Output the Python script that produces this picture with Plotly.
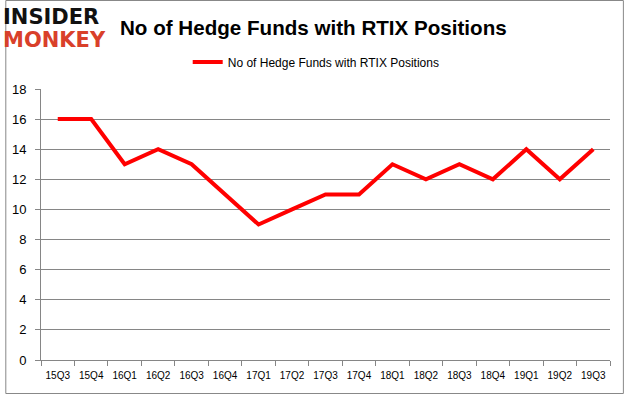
import plotly.graph_objects as go

quarters = ["15Q3", "15Q4", "16Q1", "16Q2", "16Q3", "16Q4", "17Q1", "17Q2", "17Q3",
            "17Q4", "18Q1", "18Q2", "18Q3", "18Q4", "19Q1", "19Q2", "19Q3"]
hedge_funds = [16, 16, 13, 14, 13, 11, 9, 10, 11, 11, 13, 12, 13, 12, 14, 12, 14]
series_name = "No of Hedge Funds with RTIX Positions"
title_text = "No of Hedge Funds with RTIX Positions"
y_ticks = [0, 2, 4, 6, 8, 10, 12, 14, 16, 18]

W, H = 625, 395
ML, MR, MT, MB = 36, 15, 89, 35
PW, PH = W - ML - MR, H - MT - MB

def px(x):
    return (x - ML) / PW

def py(y):
    return (H - MB - y) / PH

fig = go.Figure()
fig.add_trace(go.Scatter(
    x=quarters, y=hedge_funds, mode="lines", name=series_name,
    line=dict(color="#FF0000", width=4), showlegend=True,
))

grid = "#868686"
fig.update_layout(
    width=W, height=H,
    margin=dict(l=ML, r=MR, t=MT, b=MB),
    paper_bgcolor="white", plot_bgcolor="white",
    font=dict(family="Liberation Sans, Arial, sans-serif", color="#000000"),
    showlegend=True,
    legend=dict(orientation="h", x=px(184), xanchor="left", y=py(62), yanchor="middle",
                font=dict(size=12, color="#000000"), itemwidth=30,
                bgcolor="rgba(0,0,0,0)"),
    xaxis=dict(type="category", showgrid=False, showline=True, linecolor=grid, linewidth=1,
               ticks="outside", tickson="boundaries", ticklen=5, tickcolor=grid,
               tickangle=0, ticklabelstandoff=6,
               tickfont=dict(size=10, color="#000000"), range=[-0.5, len(quarters) - 0.5],
               zeroline=False),
    yaxis=dict(range=[0, 18], tickvals=y_ticks, showgrid=True, gridcolor=grid, gridwidth=1,
               showline=True, linecolor=grid, linewidth=1, ticks="outside", ticklen=5,
               ticklabelstandoff=6,
               tickcolor=grid, tickfont=dict(size=13, color="#000000"), zeroline=False),
    annotations=[
        dict(text="<b>" + title_text + "</b>", xref="paper", yref="paper",
             x=px(114), y=py(27), xanchor="left", yanchor="middle", showarrow=False,
             font=dict(size=20.6, color="#000000", family="Liberation Sans, Arial, sans-serif")),
        dict(text="<b>INSIDER</b>", xref="paper", yref="paper",
             x=px(-4), y=py(17), xanchor="left", yanchor="middle", showarrow=False,
             font=dict(size=21, color="#111111", family="DejaVu Sans, sans-serif")),
        dict(text="<b>MONKEY</b>", xref="paper", yref="paper",
             x=px(-4), y=py(40), xanchor="left", yanchor="middle", showarrow=False,
             font=dict(size=21, color="#D9402A", family="DejaVu Sans, sans-serif")),
    ],
    shapes=[
        dict(type="rect", xref="paper", yref="paper",
             x0=px(0.5), x1=px(W - 1.5), y0=py(H - 1.5), y1=py(0.5),
             line=dict(color="#888888", width=1), fillcolor="rgba(0,0,0,0)", layer="below"),
    ],
)

fig.write_html("out.html", config={"displayModeBar": False},
               post_script="document.body.style.margin='0';document.body.style.overflow='hidden';")
